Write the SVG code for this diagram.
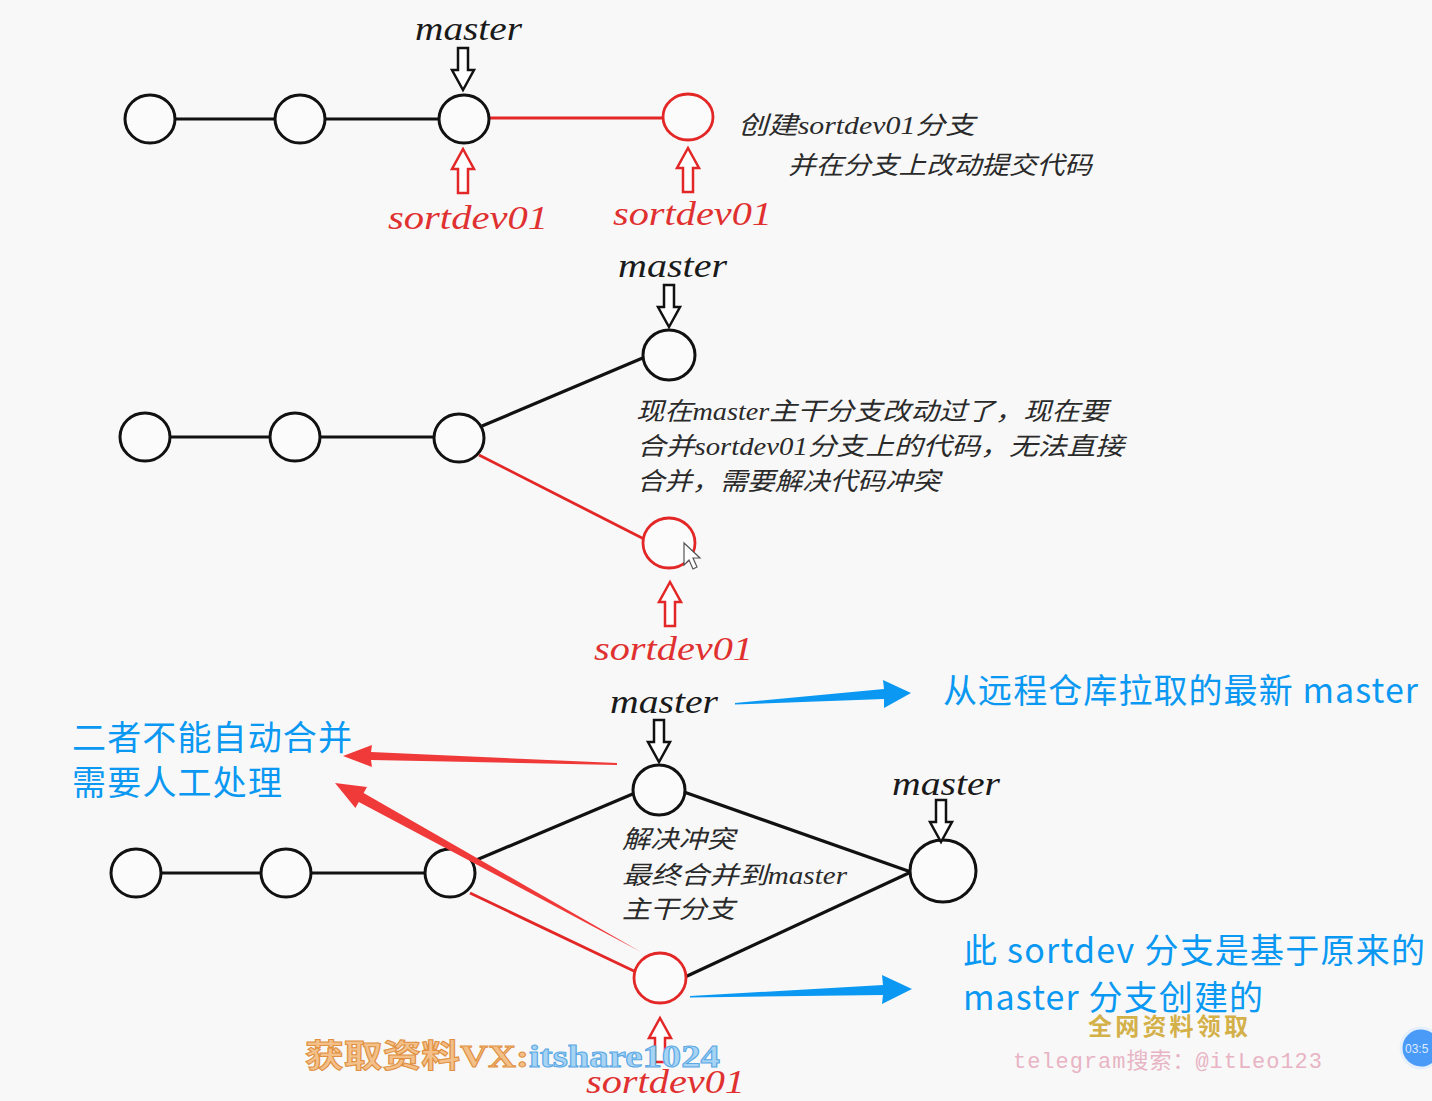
<svg xmlns="http://www.w3.org/2000/svg" width="1432" height="1101" viewBox="0 0 1432 1101">
<defs>
<style>
.bk{fill:#fbfbfb;stroke:#111;stroke-width:3}
.rd{fill:#fbfbfb;stroke:#e32626;stroke-width:2.8}
.ln{stroke:#111;stroke-width:3.2;fill:none}
.lr{stroke:#e32626;stroke-width:2.8;fill:none}
.lbl{font-family:"Liberation Serif",serif;font-style:italic;font-size:34px;fill:#1a1a1a}
.lblr{font-family:"Liberation Serif",serif;font-style:italic;font-size:34px;fill:#e03030}
.cn{font-family:"Liberation Serif","Noto Sans CJK SC",serif;font-style:italic;font-size:25px;fill:#2a2a2a}
.bl{font-family:"Noto Sans CJK SC","Noto Sans",sans-serif;font-size:34px;fill:#0a98f2}
.ad{fill:#fff;stroke:#111;stroke-width:2.5}
.au{fill:#fff;stroke:#e32626;stroke-width:2.5}
</style>
<path id="down" d="M-5,0 H5 V22 H11 L0,42 L-11,22 H-5 Z"/>
<path id="up" d="M0,0 L11,20 H5 V44 H-5 V20 H-11 Z"/>
</defs>
<rect width="1432" height="1101" fill="#f8f8f8"/>

<g id="connectors">
<line class="ln" x1="175" y1="119" x2="275" y2="119"/>
<line class="ln" x1="325" y1="119" x2="439" y2="119"/>
<line class="lr" x1="489" y1="118" x2="663" y2="118"/>
<line class="ln" x1="170" y1="437" x2="270" y2="437"/>
<line class="ln" x1="320" y1="437" x2="434" y2="437"/>
<line class="ln" x1="482" y1="426" x2="645" y2="357"/>
<line class="lr" x1="479" y1="455" x2="644" y2="539"/>
<line class="ln" x1="161" y1="873" x2="261" y2="873"/>
<line class="ln" x1="311" y1="873" x2="425" y2="873"/>
<line class="ln" x1="474" y1="861" x2="635" y2="793"/>
<line class="lr" x1="470" y1="893" x2="636" y2="972"/>
<line class="ln" x1="684" y1="792" x2="911" y2="872"/>
<line class="ln" x1="685" y1="977" x2="911" y2="872"/>
</g>

<g id="row1">
<g id="n1a"><ellipse class="bk" cx="150" cy="119" rx="25" ry="24"/></g>
<g id="n1b"><ellipse class="bk" cx="300" cy="119" rx="25" ry="24"/></g>
<g id="n1c"><ellipse class="bk" cx="464" cy="119" rx="25" ry="24"/></g>
<g id="n1d"><ellipse class="rd" cx="688" cy="117" rx="25" ry="23"/></g>
<g id="master1"><text class="lbl" x="415" y="40" textLength="107" lengthAdjust="spacingAndGlyphs">master</text><use href="#down" class="ad" transform="translate(463,48)"/></g>
<g id="sd1a"><use href="#up" class="au" transform="translate(463,149)"/><text class="lblr" x="388" y="229" textLength="160" lengthAdjust="spacingAndGlyphs">sortdev01</text></g>
<g id="sd1b"><use href="#up" class="au" transform="translate(688,148)"/><text class="lblr" x="613" y="225" textLength="159" lengthAdjust="spacingAndGlyphs">sortdev01</text></g>
<g id="note1">
<text class="cn" x="738" y="134" textLength="237" lengthAdjust="spacingAndGlyphs">创建sortdev01分支</text>
<text class="cn" x="788" y="174" textLength="304" lengthAdjust="spacingAndGlyphs">并在分支上改动提交代码</text>
</g>
</g>

<g id="row2">
<g id="n2a"><ellipse class="bk" cx="145" cy="437" rx="25" ry="24"/></g>
<g id="n2b"><ellipse class="bk" cx="295" cy="437" rx="25" ry="24"/></g>
<g id="n2c"><ellipse class="bk" cx="459" cy="438" rx="25" ry="24"/></g>
<g id="n2d"><ellipse class="bk" cx="669" cy="355" rx="26" ry="25"/></g>
<g id="n2e"><ellipse class="rd" cx="669" cy="543" rx="26" ry="25"/></g>
<g id="master2"><text class="lbl" x="618" y="277" textLength="109" lengthAdjust="spacingAndGlyphs">master</text><use href="#down" class="ad" transform="translate(669,285)"/></g>
<g id="sd2"><use href="#up" class="au" transform="translate(670,582)"/><text class="lblr" x="594" y="660" textLength="159" lengthAdjust="spacingAndGlyphs">sortdev01</text></g>
<g id="note2">
<text class="cn" x="636" y="420" textLength="472" lengthAdjust="spacingAndGlyphs">现在master主干分支改动过了，现在要</text>
<text class="cn" x="637" y="455" textLength="487" lengthAdjust="spacingAndGlyphs">合并sortdev01分支上的代码，无法直接</text>
<text class="cn" x="637" y="490" textLength="303" lengthAdjust="spacingAndGlyphs">合并，需要解决代码冲突</text>
</g>
<path d="M684,543 L684,565 L689,560 L693,569 L697,567 L693,558 L700,558 Z" fill="#fff" stroke="#555" stroke-width="1.2"/>
</g>

<g id="row3">
<g id="n3a"><ellipse class="bk" cx="136" cy="873" rx="25" ry="24"/></g>
<g id="n3b"><ellipse class="bk" cx="286" cy="873" rx="25" ry="24"/></g>
<g id="n3c"><ellipse class="bk" cx="450" cy="873" rx="25" ry="24"/></g>
<g id="n3d"><ellipse class="bk" cx="659" cy="790" rx="26" ry="25"/></g>
<g id="n3e"><ellipse class="rd" cx="660" cy="978" rx="26" ry="25"/></g>
<g id="n3f"><ellipse class="bk" cx="943" cy="871" rx="33" ry="31"/></g>
<g id="master3"><text class="lbl" x="610" y="713" textLength="108" lengthAdjust="spacingAndGlyphs">master</text><use href="#down" class="ad" transform="translate(659,720)"/></g>
<g id="master4"><text class="lbl" x="892" y="795" textLength="108" lengthAdjust="spacingAndGlyphs">master</text><use href="#down" class="ad" transform="translate(941,800)"/></g>
<g id="sd3"><use href="#up" class="au" transform="translate(660,1018)"/><text class="lblr" x="586" y="1093" textLength="159" lengthAdjust="spacingAndGlyphs">sortdev01</text></g>
<g id="note3">
<text class="cn" x="622" y="848" textLength="113" lengthAdjust="spacingAndGlyphs">解决冲突</text>
<text class="cn" x="622" y="884" textLength="225" lengthAdjust="spacingAndGlyphs">最终合并到master</text>
<text class="cn" x="622" y="918" textLength="113" lengthAdjust="spacingAndGlyphs">主干分支</text>
</g>
</g>

<g id="callouts">
<polygon fill="#0a98f2" points="735,703 884,689 883,680 911,693 884,708 884,699 735,704.5"/>
<polygon fill="#0a98f2" points="690,996 883,985 882,975 912,989 882,1004 883,995 690,997.5"/>
<polygon fill="#f03a3a" points="617,763 371,752 372,745 343,756 372,767 371,760 617,765"/>
<polygon fill="#f03a3a" points="641,952 363.6,793.1 367,787 335,783 355.4,808 358.8,801.9"/>
<text class="bl" x="943" y="703" textLength="475">从远程仓库拉取的最新 master</text>
<text class="bl" x="72" y="750" textLength="280">二者不能自动合并</text>
<text class="bl" x="72" y="795" textLength="210">需要人工处理</text>
<text class="bl" x="963" y="963" textLength="462">此 sortdev 分支是基于原来的</text>
<text class="bl" x="963" y="1010" textLength="300">master 分支创建的</text>
</g>

<g id="watermarks">
<text x="305" y="1067" font-family="'Liberation Serif','Noto Sans CJK SC',serif" font-weight="bold" font-size="32" textLength="415" lengthAdjust="spacingAndGlyphs"><tspan fill="#f3c08a" stroke="#e09040" stroke-width="1">获取资料VX:</tspan><tspan fill="#a8d4f4" stroke="#5aa8e4" stroke-width="1">itshare1024</tspan></text>
<text x="1088" y="1035" font-family="'Noto Sans CJK SC',sans-serif" font-weight="bold" font-size="24" fill="#d4b048" textLength="160">全网资料领取</text>
<text x="1013" y="1068" font-family="'Liberation Mono','Noto Sans CJK SC',monospace" font-size="22" fill="#e8b4c4" textLength="309">telegram搜索：@itLeo123</text>
<circle cx="1421" cy="1048" r="20" fill="#4a9af8" stroke="#e6f0fc" stroke-width="3"/>
<text x="1405" y="1053" font-family="'Liberation Sans',sans-serif" font-size="12" fill="#dbeaff">03:5</text>
</g>
</svg>
